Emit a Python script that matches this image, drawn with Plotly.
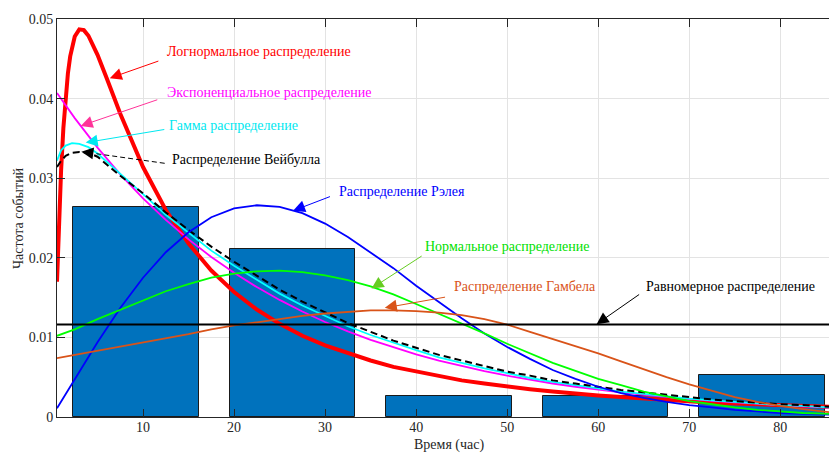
import plotly.graph_objects as go

# ---- histogram of observed times (density-normalised) ----
bin_centers = [9.2, 26.4, 43.6, 60.8, 78.0]
bar_heights = [0.0264, 0.0211, 0.0026, 0.0026, 0.0053]
bar_width = 13.8

# ---- fitted probability density curves ----
grid_25 = [2.5 * i for i in range(1, 34)] + [85.35]   # 2.5 ... 82.5, then the right edge

logn_x = [0.55, 0.7, 0.85, 1.0, 1.25, 1.5, 1.75, 2.0, 2.5, 3.0, 3.5, 4.0, 5.0, 6.0, 7.5] + grid_25[3:]
logn_y = [0.0170, 0.0225, 0.0271, 0.0310, 0.0363, 0.0403, 0.0432, 0.0453, 0.0478, 0.0487, 0.0486, 0.0479,
          0.0455, 0.0426, 0.0381,
          0.0314, 0.0260, 0.0218, 0.0184, 0.0157, 0.0135, 0.0117, 0.0102, 0.0090, 0.0080, 0.0071, 0.0063,
          0.0057, 0.0051, 0.0046, 0.0042, 0.0038, 0.0035, 0.0032, 0.0029, 0.0027, 0.0025, 0.0023, 0.0021,
          0.0020, 0.0018, 0.0017, 0.0016, 0.0015, 0.0014, 0.0013]

exp_x = [0.55] + grid_25
exp_y = [0.0407, 0.03755, 0.03384, 0.03049, 0.02747, 0.02476, 0.02231, 0.02010, 0.01811, 0.01632, 0.01471,
         0.01325, 0.01194, 0.01076, 0.00970, 0.00874, 0.00787, 0.00709, 0.00639, 0.00576, 0.00519, 0.00468,
         0.00421, 0.00380, 0.00342, 0.00308, 0.00278, 0.00250, 0.00226, 0.00203, 0.00183, 0.00165, 0.00149,
         0.00134, 0.00119]

gam_x = [0.55, 1.0, 1.5, 2.2, 3.0, 4.0, 5.0, 7.5] + grid_25[3:]
gam_y = [0.0322, 0.0335, 0.0341, 0.0344, 0.0343, 0.0339, 0.0331, 0.0306,
         0.0280, 0.0254, 0.0231, 0.0209, 0.0190, 0.0172, 0.0155, 0.0140, 0.0127, 0.0114, 0.0103, 0.0093,
         0.0084, 0.0075, 0.0068, 0.0061, 0.0055, 0.0049, 0.0044, 0.0040, 0.0036, 0.0032, 0.0029, 0.0026,
         0.0023, 0.0021, 0.0019, 0.0017, 0.0015, 0.0014, 0.0012]

wbl_x = [0.55, 1.0, 1.5, 2.2, 3.0, 4.0, 5.0, 7.5] + grid_25[3:]
wbl_y = [0.0314, 0.0322, 0.0328, 0.0332, 0.0333, 0.0332, 0.0327, 0.0303,
         0.0281, 0.0257, 0.0235, 0.0214, 0.0195, 0.0177, 0.0160, 0.0145, 0.0131, 0.0118, 0.0107, 0.0096,
         0.0087, 0.0078, 0.0071, 0.0064, 0.0057, 0.0052, 0.0046, 0.0042, 0.0038, 0.0034, 0.0031, 0.0028,
         0.0025, 0.0022, 0.0020, 0.0018, 0.0016, 0.0015, 0.0013]

ray_x = [0.55] + grid_25
ray_y = [0.0011, 0.0048, 0.0094, 0.0137, 0.0175, 0.0207, 0.0232, 0.0251, 0.0262, 0.0266, 0.0264, 0.0256,
         0.0243, 0.0226, 0.0207, 0.0187, 0.0165, 0.0144, 0.0124, 0.0105, 0.0088, 0.0073, 0.0059, 0.0048,
         0.0038, 0.0030, 0.0024, 0.0019, 0.0015, 0.0012, 0.0009, 0.0007, 0.0005, 0.0004, 0.0003]

norm_x = [0.55] + grid_25
norm_y = [0.0102, 0.0110, 0.0123, 0.0135, 0.0147, 0.0158, 0.0167, 0.0175, 0.0180, 0.0183, 0.0184, 0.0182,
          0.0178, 0.0172, 0.0164, 0.0154, 0.0142, 0.0130, 0.0118, 0.0105, 0.0092, 0.0080, 0.0068, 0.0058,
          0.0048, 0.0040, 0.0032, 0.0026, 0.0020, 0.0016, 0.0012, 0.0009, 0.0007, 0.0005, 0.0004]

gum_x = [0.55] + grid_25
gum_y = [0.0074, 0.0078, 0.0083, 0.0088, 0.0094, 0.0099, 0.0104, 0.0110, 0.0115, 0.0119, 0.0123, 0.0127,
         0.0130, 0.0132, 0.0134, 0.0134, 0.0133, 0.0131, 0.0128, 0.0123, 0.0116, 0.0107, 0.0098, 0.0089,
         0.0080, 0.0070, 0.0060, 0.0050, 0.0041, 0.0033, 0.0025, 0.0019, 0.0014, 0.0010, 0.0006]

unif_x = [0.55, 85.35]
unif_y = [0.01163, 0.01163]

# ---- axis ticks ----
x_ticks = [10, 20, 30, 40, 50, 60, 70, 80]
y_ticks = [0, 0.01, 0.02, 0.03, 0.04, 0.05]
y_tick_text = ["0", "0.01", "0.02", "0.03", "0.04", "0.05"]

FONT = "Liberation Serif"
AX = "#262626"
FS = 14

fig = go.Figure()

fig.add_trace(go.Bar(
    x=bin_centers, y=bar_heights, width=bar_width,
    marker=dict(color="#0072BD", line=dict(color="#1A1A1A", width=1)),
    showlegend=False, hoverinfo="skip"))

curves = [
    (logn_x, logn_y, "#FF0000", 4, "solid"),
    (exp_x, exp_y, "#FF00FF", 1.8, "solid"),
    (gam_x, gam_y, "#00FFFF", 1.8, "solid"),
    (wbl_x, wbl_y, "#000000", 2, "7px,4px"),
    (ray_x, ray_y, "#0000FF", 1.8, "solid"),
    (norm_x, norm_y, "#00FF00", 1.8, "solid"),
    (gum_x, gum_y, "#D95319", 1.8, "solid"),
    (unif_x, unif_y, "#000000", 2, "solid"),
]
for cx, cy, col, w, dash in curves:
    fig.add_trace(go.Scatter(
        x=cx, y=cy, mode="lines",
        line=dict(color=col, width=w, dash=dash),
        showlegend=False, hoverinfo="skip"))

# ---- callout labels: text, text colour, text anchor, arrow tail, arrow head, arrow colour ----
callouts = [
    ("Логнормальное распределение", "#FF0000", (12.38, 0.04591), (11.85, 0.04478), (6.35, 0.04257), "#FF0000"),
    ("Экспоненциальное распределение", "#FF00FF", (12.38, 0.04075), (11.73, 0.03992), (3.15, 0.03657), "#FF3399"),
    ("Гамма распределение", "#00E8F0", (12.6, 0.03657), (12.5, 0.03615), (3.70, 0.03447), "#00E8F0"),
    ("Распределение Вейбулла", "#000000", (12.93, 0.03229), None, None, None),
    ("Распределение Рэлея", "#0000FF", (31.32, 0.02830), (30.70, 0.02776), (26.48, 0.02591), "#0000FF"),
    ("Нормальное распределение", "#00E000", (40.77, 0.02138), (40.77, 0.02034), (35.10, 0.01615), "#66CC22"),
    ("Распределение Гамбела", "#D95319", (43.96, 0.01635), (43.34, 0.01509), (36.56, 0.01371), "#D95319"),
    ("Равномерное распределение", "#000000", (65.0, 0.01644), (64.66, 0.01552), (59.82, 0.01166), "#000000"),
]

annotations = []
for text, tcol, tpos, tail, head, acol in callouts:
    annotations.append(dict(
        x=tpos[0], y=tpos[1], xref="x", yref="y", text=text, showarrow=False,
        xanchor="left", yanchor="middle", font=dict(family=FONT, size=FS, color=tcol)))
    if head is not None:
        annotations.append(dict(
            x=head[0], y=head[1], ax=tail[0], ay=tail[1], xref="x", yref="y",
            axref="x", ayref="y", text="", showarrow=True, arrowhead=2,
            arrowsize=2.4, arrowwidth=1, arrowcolor=acol))

# dashed callout for the Weibull curve
wbl_tail = (12.38, 0.03187)
wbl_head = (3.23, 0.03333)
shapes = [dict(type="line", xref="x", yref="y", x0=wbl_tail[0], y0=wbl_tail[1],
               x1=4.6, y1=0.03312, line=dict(color="#000000", width=1, dash="5px,3px"))]
annotations.append(dict(
    x=wbl_head[0], y=wbl_head[1], ax=13, ay=1.8, xref="x", yref="y",
    text="", showarrow=True, arrowhead=2, arrowsize=2.4, arrowwidth=1, arrowcolor="#000000"))

# axis titles
annotations.append(dict(
    x=0.5082, y=-0.0712, xref="paper", yref="paper", text="Время (час)", showarrow=False,
    xanchor="center", yanchor="middle", font=dict(family=FONT, size=FS, color=AX)))
annotations.append(dict(
    x=-0.0505, y=0.5, xref="paper", yref="paper", text="Частота событий", showarrow=False,
    textangle=-90, xanchor="center", yanchor="middle", font=dict(family=FONT, size=FS, color=AX)))

fig.update_layout(
    width=829, height=454,
    margin=dict(l=57, r=0, t=19, b=37),
    paper_bgcolor="white", plot_bgcolor="white",
    bargap=0, showlegend=False,
    annotations=annotations, shapes=shapes,
    font=dict(family=FONT, size=FS, color=AX),
    xaxis=dict(
        range=[0.55, 85.35], tickvals=x_ticks, ticktext=[str(v) for v in x_ticks],
        ticks="inside", ticklen=8, tickwidth=1, tickcolor=AX, ticklabelstandoff=-3,
        showline=True, linecolor=AX, linewidth=1, mirror="allticks",
        showgrid=True, gridcolor="#E3E3E3", gridwidth=1, zeroline=False,
        tickfont=dict(family=FONT, size=FS, color=AX)),
    yaxis=dict(
        range=[0, 0.05], tickvals=y_ticks, ticktext=y_tick_text,
        ticks="inside", ticklen=8, tickwidth=1, tickcolor=AX,
        showline=True, linecolor=AX, linewidth=1,
        showgrid=True, gridcolor="#E3E3E3", gridwidth=1, zeroline=False,
        tickfont=dict(family=FONT, size=FS, color=AX)),
)

fig.write_html("out.html")
